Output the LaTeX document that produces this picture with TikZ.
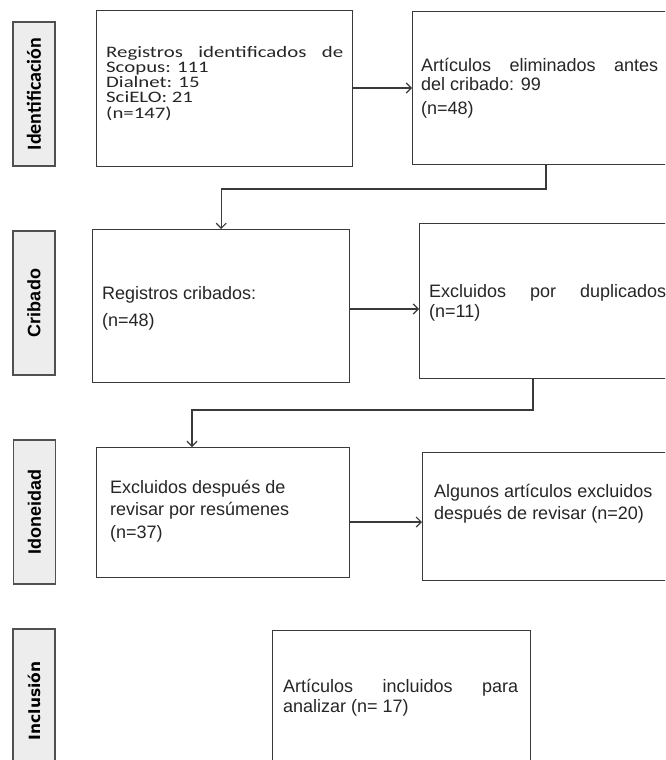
\documentclass[tikz,border=0pt]{standalone}
\usepackage{fontspec}
\usetikzlibrary{arrows.meta}
\newfontfamily\arialf{Liberation Sans}
\newfontfamily\calibf[FakeStretch=1.3]{Carlito}
\newfontfamily\caliblab{Carlito}
\newfontfamily\dejavuf{DejaVu Sans}
\definecolor{boxline}{HTML}{3A3A3A}
\definecolor{labfill}{HTML}{EDEDED}
\definecolor{labline}{HTML}{505050}
\tikzset{
  flowbox/.style={draw=boxline, line width=1.4pt, fill=white, rectangle, anchor=north west, inner sep=0pt},
  labbox/.style={draw=labline, line width=1.8pt, fill=labfill, rectangle, inner sep=0pt, rotate=90,
                 minimum width=144pt, minimum height=42pt},
  txt/.style={anchor=base west, inner sep=0pt, text=black!85},
  conn/.style={draw=boxline, line width=1.4pt},
  arr/.style={conn, -{Straight Barb[length=5pt,width=10pt,line width=1.2pt]}}
}
\begin{document}
\begin{tikzpicture}[x=1pt,y=-1pt]
\useasboundingbox (0,0) rectangle (665,760);
\clip (0,0) rectangle (665,760);
% stage labels
\node[labbox] (l1) at (34,94) {\caliblab\bfseries\fontsize{20}{20}\selectfont Identificación};
\node[labbox] (l2) at (34,303) {\arialf\bfseries\fontsize{18}{18}\selectfont Cribado};
\node[labbox] (l3) at (34.5,512) {\arialf\bfseries\fontsize{18}{18}\selectfont Idoneidad};
\node[labbox] (l4) at (34,701) {\dejavuf\bfseries\fontsize{15.5}{15.5}\selectfont Inclusión};
% boxes
\node[flowbox, minimum width=256pt, minimum height=156pt] (b1) at (96,10) {};
\node[flowbox, minimum width=268pt, minimum height=153pt] (b2) at (412,11) {};
\node[flowbox, minimum width=257pt, minimum height=153pt] (b3) at (92,229) {};
\node[flowbox, minimum width=261pt, minimum height=155pt] (b4) at (419,223) {};
\node[flowbox, minimum width=253pt, minimum height=130pt] (b5) at (96,447) {};
\node[flowbox, minimum width=258pt, minimum height=128pt] (b6) at (422,452) {};
\node[flowbox, minimum width=258pt, minimum height=160pt] (b7) at (272,630) {};
% texts
\node[txt] (t1) at (106,57) {\parbox[t]{237pt}{\calibf\fontsize{16}{15.3}\selectfont
  Registros identificados de\linebreak Scopus: 111\newline Dialnet: 15\newline SciELO: 21\newline (n=147)}};
\node[txt] (t2) at (421,71) {\parbox[t]{237pt}{\arialf\fontsize{18}{19}\selectfont
  Artículos eliminados antes\linebreak del cribado: 99\par\vspace{5pt}(n=48)}};
\node[txt] (t3) at (102,299) {\parbox[t]{237pt}{\arialf\fontsize{18}{19}\selectfont
  Registros cribados:\par\vspace{8pt}(n=48)}};
\node[txt] (t4) at (429,297) {\parbox[t]{237pt}{\arialf\fontsize{18}{20}\selectfont
  Excluidos por duplicados\linebreak (n=11)}};
\node[txt] (t5) at (110,493) {\parbox[t]{230pt}{\arialf\fontsize{18}{22.5}\selectfont
  Excluidos después de\newline revisar por resúmenes\newline (n=37)}};
\node[txt] (t6) at (434,497) {\parbox[t]{230pt}{\arialf\fontsize{18}{22}\selectfont
  Algunos artículos excluidos\newline después de revisar (n=20)}};
\node[txt] (t7) at (283,692) {\parbox[t]{235pt}{\arialf\fontsize{18}{20}\selectfont
  Artículos incluidos para\linebreak analizar (n= 17)}};
% connector bend points
\coordinate (k1) at (546,189);
\coordinate (k2) at (533,410);
\coordinate (k3) at (192,410);
% connectors
\draw[arr] (b1.east |- 0,88) -- (b2.west |- 0,88);
\draw[arr] (b2.south -| k1) -- (k1) -- (k1 -| b3.north) -- (b3.north);
\draw[arr] (b3.east |- 0,309) -- (b4.west |- 0,309);
\draw[arr] (b4.south -| k2) -- (k2) -- (k3) -- (b5.north -| k3);
\draw[arr] (b5.east |- 0,522) -- (b6.west |- 0,522);
\end{tikzpicture}
\end{document}
